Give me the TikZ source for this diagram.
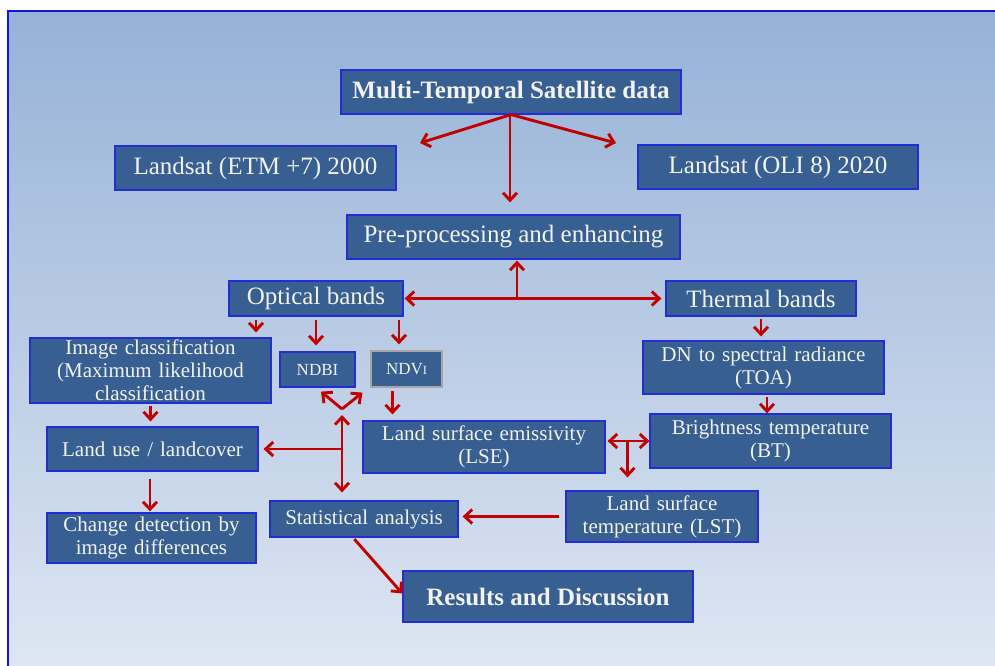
\documentclass[tikz,border=0pt]{standalone}
\usepackage{fontspec}
\setmainfont{Liberation Serif}
\usetikzlibrary{arrows.meta,calc}
\definecolor{bgtop}{RGB}{150,178,215}
\definecolor{bgbottom}{RGB}{223,231,243}
\definecolor{framblue}{RGB}{20,20,225}
\definecolor{boxfill}{RGB}{55,95,145}
\definecolor{boxline}{RGB}{35,45,215}
\definecolor{arrowred}{RGB}{195,0,0}
\newcommand\midfont{\fontsize{21}{23}\selectfont\spaceskip=7pt plus 1pt\relax}

\begin{document}
\begin{tikzpicture}[x=1pt, y=-1pt,
  box/.style={draw=boxline, line width=1.2pt, fill=boxfill, text=white!95!black, inner sep=0pt, align=center, font=\fontsize{25}{27}\selectfont},
  midbox/.style={box, font=\midfont},
  arr/.style={draw=arrowred, line width=2.9pt, -{Straight Barb[length=7.5pt,width=14pt]}},
  dblarr/.style={arr, {Straight Barb[length=7.5pt,width=14pt]}-{Straight Barb[length=7.5pt,width=14pt]}}]
% frame
\clip (0,0) rectangle (995,666);
\shade[top color=bgtop, bottom color=bgbottom] (8,11) rectangle (1010,680);
\draw[framblue, line width=1.5pt] (8,11) rectangle (1010,680);

% boxes
\node[box, minimum width=340pt, minimum height=44pt] (multi) at (511,92) {\textbf{Multi-Temporal Satellite data}};
\node[box, minimum width=281pt, minimum height=44pt] (etm) at (255.5,168) {Landsat (ETM +7) 2000};
\node[box, minimum width=280pt, minimum height=44pt] (oli) at (778,167) {Landsat (OLI 8) 2020};
\node[box, minimum width=333pt, minimum height=44pt] (prep) at (513.5,237) {Pre-processing and enhancing};
\node[box, minimum width=174pt, minimum height=35pt] (optical) at (316,298.5) {Optical bands};
\node[box, minimum width=190pt, minimum height=35pt] (thermal) at (761,298.5) {Thermal bands};
\node[midbox, minimum width=241pt, minimum height=65pt] (imgclass) at (150.5,370.5) {Image classification\\(Maximum likelihood\\classification};
\node[midbox, font=\fontsize{17}{19}\selectfont, minimum width=75pt, minimum height=35pt] (ndbi) at (317.5,369.5) {NDBI};
\node[midbox, draw=gray!70, font=\fontsize{17}{19}\selectfont, minimum width=71pt, minimum height=36pt] (ndvi) at (406.5,369) {NDV{\fontsize{12.5}{14}\selectfont I}};
\node[midbox, minimum width=211pt, minimum height=44pt] (landuse) at (152.5,449) {Land use / landcover};
\node[midbox, minimum width=242pt, minimum height=52pt] (lse) at (484,447) {Land surface emissivity\\(LSE)};
\node[midbox, minimum width=241pt, minimum height=53pt] (dn) at (763.5,367.5) {DN to spectral radiance\\(TOA)};
\node[midbox, minimum width=241pt, minimum height=54pt] (bt) at (770.5,441) {Brightness temperature\\(BT)};
\node[midbox, minimum width=192pt, minimum height=51pt] (lst) at (662,516.5) {Land surface\\temperature (LST)};
\node[midbox, minimum width=188pt, minimum height=36pt] (stat) at (364,519) {Statistical analysis};
\node[midbox, minimum width=209pt, minimum height=50pt] (change) at (151.5,538) {Change detection by\\image differences};
\node[box, minimum width=290pt, minimum height=51pt] (results) at (548,596.5) {\textbf{Results and Discussion}};

% free ends and joints
\coordinate (etmtip) at (420,143);
\coordinate (olitip) at (616,143);
\coordinate (vjoin) at (342,409);
\coordinate (lsebt) at ($(bt.west -| lse.east)!.5!(bt.west)$);

% connectors
\draw[arr] (multi.south) -- (etmtip);
\draw[arr] (multi.south) -- (olitip);
\draw[arr, shorten >=12pt] ([xshift=-1pt]multi.south) -- ([xshift=-1pt]multi.south |- prep.north);
\draw[dblarr, shorten <=1pt, shorten >=4pt] (optical.east) -- (thermal.west);
\draw[arr, shorten >=1pt] ([xshift=3.5pt]prep.south |- optical.east) -- ([xshift=3.5pt]prep.south);
\draw[arr, shorten <=3pt, shorten >=5pt] ([xshift=-60pt]optical.south) -- ([xshift=-60pt]optical.south |- imgclass.north);
\draw[arr, shorten <=3pt, shorten >=6pt] (optical.south) -- (optical.south |- ndbi.north);
\draw[arr, shorten <=3pt, shorten >=6pt] ([xshift=83pt]optical.south) -- ([xshift=83pt]optical.south |- ndvi.north);
\draw[arr, shorten <=2pt, shorten >=4pt] (thermal.south) -- (thermal.south |- dn.north);
\draw[arr, shorten <=2pt] ([xshift=3.5pt]dn.south) -- ([xshift=3.5pt]dn.south |- bt.north);
\draw[arr, shorten <=2pt, shorten >=5pt] (imgclass.south) -- (imgclass.south |- landuse.north);
\draw[arr, shorten <=3pt, shorten >=6pt] ([xshift=-14pt]ndvi.south) -- ([xshift=-14pt]ndvi.south |- lse.north);
\draw[arr] (vjoin) -- ([xshift=3.5pt, yshift=-4pt]ndbi.south);
\draw[arr] (vjoin) -- ([xshift=-8pt, yshift=-5pt]ndvi.south west);
\draw[dblarr, shorten >=8pt] ([yshift=-6pt]vjoin) -- (vjoin |- stat.north);
\draw[arr, shorten >=5pt] (vjoin |- landuse.east) -- (landuse.east);
\draw[arr, shorten <=7pt, shorten >=1pt] ([xshift=-2.5pt]landuse.south) -- ([xshift=-2.5pt]landuse.south |- change.north);
\draw[arr, shorten <=6pt, shorten >=4pt] (lst.west) -- (lst.west -| stat.east);
\draw[arr, shorten <=2pt] ([xshift=-11pt]stat.south) -- ([yshift=3pt]results.west);
\draw[dblarr, shorten <=2pt] (bt.west -| lse.east) -- (bt.west);
\draw[arr, shorten >=13pt] (lsebt) -- (lsebt |- lst.north);
\end{tikzpicture}
\end{document}
